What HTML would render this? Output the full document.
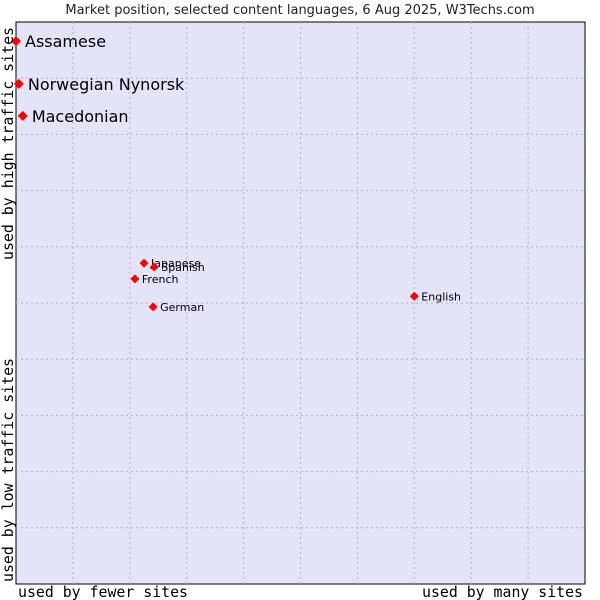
<!DOCTYPE html>
<html><head><meta charset="utf-8"><style>
html,body{margin:0;padding:0;background:#fff;width:600px;height:600px;overflow:hidden}
text{font-family:"DejaVu Sans","Liberation Sans",sans-serif}
.mono{font-family:"DejaVu Sans Mono","Liberation Mono",monospace}
</style></head><body>
<svg id="chart" width="600" height="600" xmlns="http://www.w3.org/2000/svg">
<text x="300" y="14" text-anchor="middle" font-size="13" fill="#222">Market position, selected content languages, 6 Aug 2025, W3Techs.com</text>
<rect x="16" y="22" width="569" height="562" fill="#e3e4f8" stroke="#000" stroke-width="1"/>
<g id="grid"></g>
<g id="points"></g>
<text class="mono" x="18" y="597" font-size="15" textLength="170" lengthAdjust="spacingAndGlyphs" fill="#000">used by fewer sites</text>
<text class="mono" x="422" y="597" font-size="15" textLength="161" lengthAdjust="spacingAndGlyphs" fill="#000">used by many sites</text>
<text class="mono" transform="translate(13,582) rotate(-90)" font-size="15" textLength="224" lengthAdjust="spacingAndGlyphs" fill="#000">used by low traffic sites</text>
<text class="mono" transform="translate(13,260) rotate(-90)" font-size="15" textLength="233" lengthAdjust="spacingAndGlyphs" fill="#000">used by high traffic sites</text>
</svg>
<script>
const names=["Assamese","Norwegian Nynorsk","Macedonian","Japanese","Spanish","French","German","English"];
const xs=[0.0,0.05,0.12,2.25,2.43,2.09,2.41,7.0];
const ys=[9.66,8.9,8.33,5.71,5.64,5.43,4.93,5.12];
const big=[true,true,true,false,false,false,false,false];
const X0=16,X1=585,Y0=584,Y1=22;
const sx=v=>X0+v/10*(X1-X0);
const sy=v=>Y0-v/10*(Y0-Y1);
const NS="http://www.w3.org/2000/svg";
const grid=document.getElementById('grid');
for(let i=1;i<10;i++){
 const v=document.createElementNS(NS,'line');
 
 
 v.setAttribute('x1',sx(i));v.setAttribute('x2',sx(i));v.setAttribute('y1',Y1);v.setAttribute('y2',Y0);
 v.setAttribute('stroke','#b4b4b4');v.setAttribute('stroke-dasharray','2,3');
 grid.appendChild(v);
 const h=document.createElementNS(NS,'line');
 
 
 h.setAttribute('y1',sy(i));h.setAttribute('y2',sy(i));h.setAttribute('x1',X0);h.setAttribute('x2',X1);
 h.setAttribute('stroke','#b4b4b4');h.setAttribute('stroke-dasharray','2,3');
 grid.appendChild(h);
}
const pts=document.getElementById('points');
names.forEach((n,i)=>{
 const x=sx(xs[i]),y=sy(ys[i]);const r=big[i]?5:4.5;
 const p=document.createElementNS(NS,'polygon');
 
 
 p.setAttribute('points',`${x},${y-r} ${x+r},${y} ${x},${y+r} ${x-r},${y}`);
 p.setAttribute('fill','#f00');
 pts.appendChild(p);
 const t=document.createElementNS(NS,'text');
 
 
 t.setAttribute('x',x+(big[i]?9:7));
 t.setAttribute('y',y+(big[i]?6:4));
 t.setAttribute('font-size',big[i]?16:11);
 t.setAttribute('fill','#000');
 t.textContent=n;
 pts.appendChild(t);
});
</script>
</body></html>
